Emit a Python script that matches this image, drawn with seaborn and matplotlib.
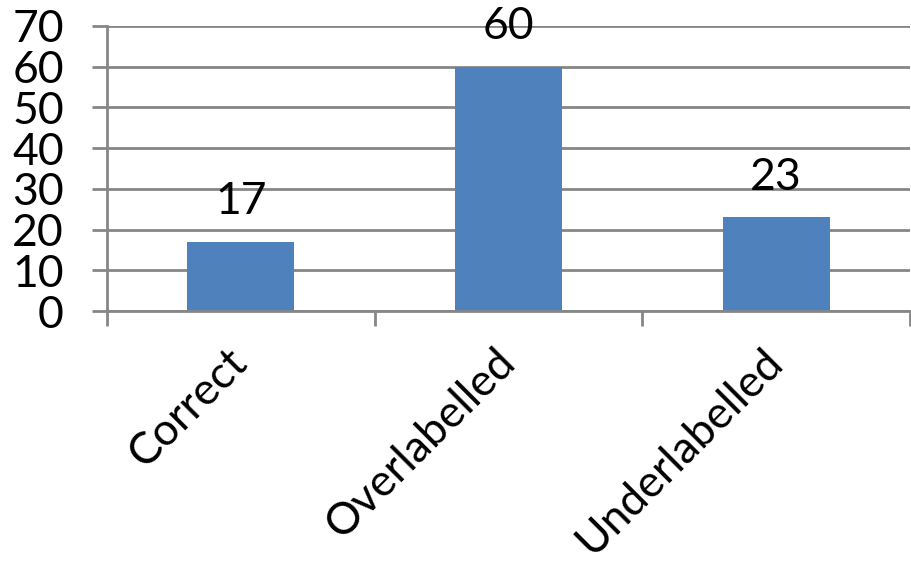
import matplotlib
matplotlib.use("Agg")
import matplotlib.pyplot as plt
import seaborn as sns
import pandas as pd

categories = ["Correct", "Overlabelled", "Underlabelled"]
values = [17, 60, 23]
y_ticks = [0, 10, 20, 30, 40, 50, 60, 70]

sns.set_style("white")
plt.rcParams['font.family'] = ['Lato', 'DejaVu Sans']
plt.rcParams['text.color'] = 'black'
plt.rcParams['xtick.labelcolor'] = 'black'
plt.rcParams['ytick.labelcolor'] = 'black'

df = pd.DataFrame({"cat": categories, "val": values})
fig = plt.figure(figsize=(9.12, 5.61), dpi=100)
ax = fig.add_axes([107/912, 1-311/561, (910-107)/912, (311-26)/561])
sns.barplot(data=df, x="cat", y="val", color="#4F81BD", saturation=1, width=0.4,
            edgecolor="none", linewidth=0, ax=ax)

grid_c = "#868686"
fs = 32
ax.set_ylim(0, 70)
ax.set_xlim(-0.5, 2.5)
ax.set_yticks(y_ticks)
ax.set_yticklabels([str(v) for v in y_ticks])
ax.yaxis.grid(True, color=grid_c, linewidth=2)
ax.set_axisbelow(True)
for s in ["top", "right"]:
    ax.spines[s].set_visible(False)
ax.spines["left"].set_color(grid_c)
ax.spines["left"].set_linewidth(2)
ax.spines["bottom"].set_color(grid_c)
ax.spines["bottom"].set_linewidth(2)
ax.tick_params(axis="y", length=11, width=2, color=grid_c, labelsize=fs, pad=20, left=True)
ax.set_xticks([0, 1, 2])
ax.set_xticks([-0.5, 0.5, 1.5, 2.5], minor=True)
ax.tick_params(axis="x", which="major", length=0, labelsize=fs, pad=32)
ax.tick_params(axis="x", which="minor", length=11, width=2, color=grid_c, bottom=True)
for lab in ax.get_xticklabels():
    lab.set_rotation(45)
    lab.set_ha("right")
    lab.set_va("center")
    lab.set_rotation_mode("anchor")
ax.set_xlabel("")
ax.set_ylabel("")

for i, v in enumerate(values):
    ax.annotate(str(v), (i, v), xytext=(0, 14), textcoords="offset points",
                ha="center", va="bottom", fontsize=fs, color="black")

fig.savefig("out.png", dpi=100)
